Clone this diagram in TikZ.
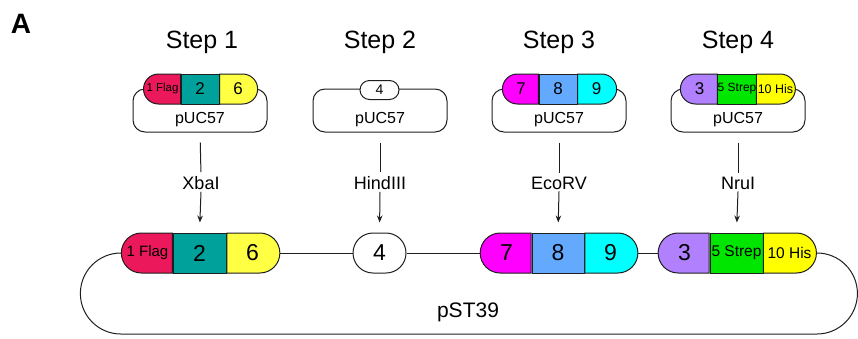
\documentclass[tikz,border=0pt]{standalone}
\usepackage{fontspec}
\setmainfont{Liberation Sans}
\usetikzlibrary{shapes.misc,arrows.meta}
\definecolor{flagred}{RGB}{236,24,92}
\definecolor{tealseg}{RGB}{0,161,154}
\definecolor{paleyellow}{RGB}{255,255,68}
\definecolor{magseg}{RGB}{255,0,255}
\definecolor{blueseg}{RGB}{99,170,255}
\definecolor{cyanseg}{RGB}{0,255,255}
\definecolor{purpseg}{RGB}{176,128,255}
\definecolor{greenseg}{RGB}{0,230,0}
\definecolor{yelseg}{RGB}{255,255,0}
\definecolor{ink}{RGB}{30,30,30}
\newcommand{\fs}[1]{\fontsize{#1}{#1}\selectfont}
\tikzset{
  seg/.style={draw=ink, line width=1pt, inner sep=0pt, text=black, anchor=center},
  midseg/.style={seg, rectangle},
  lseg/.style={seg, rounded rectangle, rounded rectangle right arc=none},
  rseg/.style={seg, rounded rectangle, rounded rectangle left arc=none},
  fullseg/.style={seg, rounded rectangle},
  topseg/.style={minimum height=30pt, font=\fs{17}},
  botseg/.style={minimum height=40pt, font=\fs{23}},
  backbone/.style={draw=ink, line width=1pt, rectangle, rounded corners=12pt,
    minimum width=134pt, minimum height=43pt, inner sep=0pt},
  steplabel/.style={font=\fs{25}, inner sep=0pt},
  enzlabel/.style={font=\fs{18}, inner sep=2pt},
  wire/.style={draw=ink, line width=1pt},
  arr/.style={wire, -{Stealth[length=7pt,width=5.5pt]}, shorten >=10pt}
}
\begin{document}
\begin{tikzpicture}[x=1pt,y=-1pt]
\useasboundingbox (0,0) rectangle (858,338);

% panel letter
\node[font=\fs{28}\bfseries, inner sep=0pt] (panel) at (21,24) {A};

% step titles
\node[steplabel] (s1) at (202,42) {Step 1};
\node[steplabel] (s2) at (380,42) {Step 2};
\node[steplabel] (s3) at (559,42) {Step 3};
\node[steplabel] (s4) at (738,42) {Step 4};

% pUC57 backbones
\node[backbone] (b1) at (200,110.5) {};
\node[backbone] (b2) at (380,110.5) {};
\node[backbone] (b3) at (559,110.5) {};
\node[backbone] (b4) at (738,110.5) {};
\foreach \b in {b1,b2,b3,b4}
  \node[font=\fs{16}, inner sep=0pt] (\b lab) at ([yshift=-9.5pt]\b.center) {pUC57};

% inserts carried in pUC57
\node[lseg, topseg, fill=flagred, minimum width=37pt, font=\fs{11.5}] (ta1) at (162.5,89) {1 Flag};
\node[midseg, topseg, fill=tealseg, minimum width=38pt] (ta2) at (200,89) {2};
\node[rseg, topseg, fill=paleyellow, minimum width=38pt] (ta3) at (238,89) {6};

\node[fullseg, fill=white, minimum width=39pt, minimum height=19pt, font=\fs{14}] (tb1) at (379.5,90) {4};

\node[lseg, topseg, fill=magseg, minimum width=36pt] (tc1) at (521,89) {7};
\node[midseg, topseg, fill=blueseg, minimum width=38pt] (tc2) at (558,89) {8};
\node[rseg, topseg, fill=cyanseg, minimum width=39pt] (tc3) at (596.5,89) {9};

\node[lseg, topseg, fill=purpseg, minimum width=37pt] (td1) at (699.5,89) {3};
\node[midseg, topseg, fill=greenseg, minimum width=38pt, font=\fs{12}] (td2) at (737,89) {5 Strep};
\node[rseg, topseg, fill=yelseg, minimum width=39pt, font=\fs{12.5}] (td3) at (775.5,89) {10 His};

% enzymes
\node[enzlabel] (e1) at (201,183) {XbaI};
\node[enzlabel] (e2) at (380,183) {HindIII};
\node[enzlabel] (e3) at (559,183) {EcoRV};
\node[enzlabel] (e4) at (738,183) {NruI};

% pST39 assembly
\node[lseg, botseg, fill=flagred, minimum width=51pt, font=\fs{15}] (ba1) at (147.5,253) {1 Flag};
\node[midseg, botseg, fill=tealseg, minimum width=53pt] (ba2) at (199.5,253) {2};
\node[rseg, botseg, fill=paleyellow, minimum width=53pt] (ba3) at (252.5,253) {6};

\node[fullseg, botseg, fill=white, minimum width=53pt] (bb1) at (379.5,253) {4};

\node[lseg, botseg, fill=magseg, minimum width=51pt] (bc1) at (506.5,253) {7};
\node[midseg, botseg, fill=blueseg, minimum width=52pt] (bc2) at (558,253) {8};
\node[rseg, botseg, fill=cyanseg, minimum width=53pt] (bc3) at (610.5,253) {9};

\node[lseg, botseg, fill=purpseg, minimum width=51pt] (bd1) at (684.5,253) {3};
\node[midseg, botseg, fill=greenseg, minimum width=53pt, font=\fs{15.5}] (bd2) at (736.5,253) {5 Strep};
\node[rseg, botseg, fill=yelseg, minimum width=53pt, font=\fs{15.5}] (bd3) at (789.5,253) {10 His};

\node[font=\fs{21}, inner sep=0pt] (pst) at (468,312) {pST39};

% connectors: backbone -> enzyme -> insert site
\foreach \i/\t in {1/ba2,2/bb1,3/bc2,4/bd2} {
  \draw[wire, shorten <=10pt, shorten >=2pt] (b\i.south) -- (e\i.north);
  \draw[arr] (e\i.south) -- (\t.north);
}

% pST39 backbone
\draw[wire] (ba3.east) -- (bb1.west);
\draw[wire] (bb1.east) -- (bc1.west);
\draw[wire] (bc3.east) -- (bd1.west);
\draw[wire] (ba1.west) arc[start angle=90, end angle=270, radius=40.5pt]
  -- ([yshift=-81pt]bd3.east) arc[start angle=-90, end angle=90, radius=40.5pt];
\end{tikzpicture}
\end{document}
